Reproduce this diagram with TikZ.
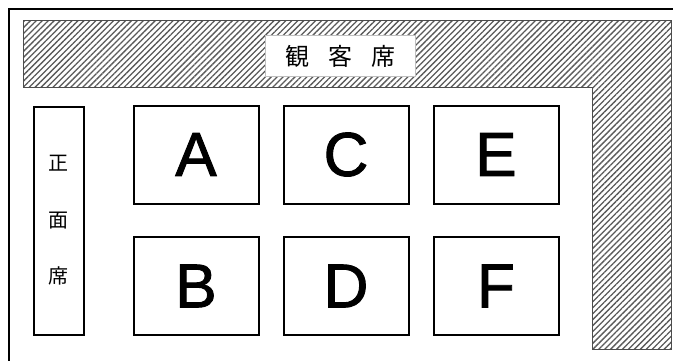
\documentclass[tikz,border=0pt]{standalone}
\usepackage{fontspec}
\setmainfont{Liberation Sans}
\newfontfamily\letterfont[FakeBold=1.5]{Liberation Sans}
\newfontfamily\cjk{Noto Sans CJK JP}
\usetikzlibrary{patterns.meta}
\begin{document}
\begin{tikzpicture}[x=1pt,y=-1pt,
  court/.style={draw=black,line width=2pt,fill=white,minimum width=125pt,minimum height=98pt,inner sep=0pt,
    font=\letterfont\fontsize{62}{62}\selectfont},
  hatch/.style={draw=black!70,line width=0.8pt,pattern={Lines[angle=45,distance=4.2pt,line width=1.3pt]},pattern color=black!65},
  label/.style={draw=black!25,line width=1.5pt,fill=white,inner sep=0pt,minimum width=150pt,minimum height=41pt,
    font=\cjk\fontsize{24}{24}\selectfont},
  sidebox/.style={draw=black,line width=2pt,fill=white,minimum width=50pt,minimum height=228pt,inner sep=0pt,
    font=\cjk\fontsize{20}{56.5}\selectfont,align=center}]
\useasboundingbox (0,0) rectangle (673,360);
% outer frame
\draw[line width=2pt] (9,361) -- (9,9) -- (674,9);
% hatched stands
\draw[hatch] (23,20) -- (671,20) -- (671,349) -- (592,349) -- (592,87) -- (23,87) -- cycle;
\node[label] (kan) at (340.5,56) {観\hspace{0.8em}客\hspace{0.8em}席};
% front seats
\node[sidebox] (front) at (58.5,220.5) {正\\面\\席};
% courts
\node[court] (A) at (196,154.5) {A};
\node[court] (C) at (346,154.5) {C};
\node[court] (E) at (496,154.5) {E};
\node[court] (B) at (196,286) {B};
\node[court] (D) at (346,286) {D};
\node[court] (F) at (496,286) {F};
\end{tikzpicture}
\end{document}
